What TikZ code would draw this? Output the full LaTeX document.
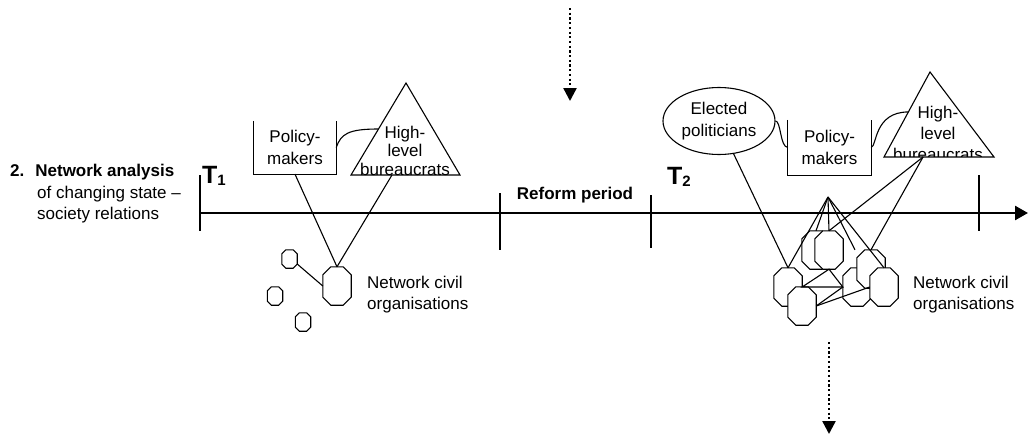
\documentclass[tikz,border=0pt]{standalone}
\usepackage{fontspec}
\setmainfont{Liberation Sans}
\usetikzlibrary{shapes.geometric,arrows.meta,calc}
\newcommand\octo[6]{%
  \node[inner sep=0pt, minimum width=#4, minimum height=#5] (#1) at (#2,#3) {};
  \draw[ln, fill=white] ($(#1.north west)+(#6,0)$) -- ($(#1.north east)+(-#6,0)$) -- ($(#1.north east)+(0,#6)$) -- ($(#1.south east)+(0,-#6)$) -- ($(#1.south east)+(-#6,0)$) -- ($(#1.south west)+(#6,0)$) -- ($(#1.south west)+(0,-#6)$) -- ($(#1.north west)+(0,#6)$) -- cycle;}
\begin{document}
\begin{tikzpicture}[x=1pt,y=-1pt,
  lbl/.style={font=\fontsize{17}{21.5}\selectfont, inner sep=0pt, align=center},
  ln/.style={line width=1.1pt},
  tri/.style={font=\fontsize{17}{18.5}\selectfont},
  dotarrow/.style={line width=2.4pt, dash pattern=on 2.2pt off 2.5pt, -{Triangle[length=13pt,width=13pt]}},
  tlabel/.style={anchor=base west, inner sep=0pt}]
\useasboundingbox (0,0) rectangle (1029,439);

% left label
\node[lbl, align=left, anchor=west] (title) at (10,194) {\textbf{2.\hspace{11pt}Network analysis}\\\hspace*{27pt}of changing state –\\\hspace*{27pt}society relations};

% axis and ticks
\draw[ln] (200,213) -- (910,213);
\draw[line width=2.6pt, -{Triangle[length=13pt,width=14pt]}] (910,213) -- (1028,213);
\draw[ln] (200,175) -- (200,231);
\draw[ln] (500,193) -- (500,250);
\draw[ln] (651,195) -- (651,248);
\draw[ln] (979,175) -- (979,231);

\node[tlabel] (T1) at (202,183) {\fontsize{25}{25}\selectfont\bfseries T\raisebox{-2pt}{\fontsize{15}{15}\selectfont 1}};
\node[tlabel] (T2) at (667,184) {\fontsize{25}{25}\selectfont\bfseries T\raisebox{-2pt}{\fontsize{15}{15}\selectfont 2}};
\node[lbl, font=\fontsize{17}{20}\selectfont\bfseries] (rp) at (575,195) {Reform period};

% ---------- T1 ----------
\node[lbl, minimum width=82pt, minimum height=53pt] (pm1) at (295,147.5) {Policy-\\makers};
\draw[ln] (pm1.north west) |- (pm1.south east) -- (pm1.north east);
\coordinate (t1a) at (406,83);
\coordinate (t1l) at (351,175);
\coordinate (t1r) at (460,175);
\draw[ln] (t1l) -- (t1a) -- (t1r) -- cycle;
\node[lbl, tri] (hb1) at (405,150.5) {High-\\level\\bureaucrats};
\coordinate (t1m) at ($(t1l)!0.5!(t1a)$);
\coordinate (t1b) at ($(t1l)!0.376!(t1r)$);
\draw[ln] (pm1.east) .. controls (341,134) and (348,129) .. (t1m);

\octo{o1}{337}{286}{28pt}{38pt}{8}
\octo{s1}{289.5}{259}{15pt}{18pt}{4}
\octo{s2}{275}{296}{15pt}{18pt}{4}
\octo{s3}{303}{322}{15pt}{18pt}{4}
\draw[ln] (pm1.south) -- (o1.north);
\draw[ln] (t1b) -- (o1.north);
\draw[ln] ($(s1.east)+(0,5)$) -- (o1.west);
\node[lbl, align=left, anchor=west] (nc1) at (367,294.5) {Network civil\\organisations};

% ---------- T2 ----------
\node[lbl, draw, ln, ellipse, minimum width=112pt, minimum height=67pt] (ep) at (719,121) {Elected\\politicians};
\node[lbl, minimum width=83pt, minimum height=55pt] (pm2) at (829.5,147.5) {Policy-\\makers};
\draw[ln] (pm2.north west) |- (pm2.south east) -- (pm2.north east);
\coordinate (t2a) at (930,72);
\coordinate (t2l) at (884,157);
\coordinate (t2r) at (994,157);
\draw[ln] (t2l) -- (t2a) -- (t2r) -- cycle;
\begin{scope}
\clip (860,60) rectangle (1010,156.5);
\node[lbl, font=\fontsize{17}{21}\selectfont] (hb2) at (938,133) {High-\\level\\bureaucrats};
\end{scope}
\coordinate (t2m) at ($(t2l)!0.53!(t2a)$);
\coordinate (t2b) at ($(t2l)!0.355!(t2r)$);
\draw[ln] (ep.east) .. controls (781,121) and (780,147) .. (pm2.west);
\draw[ln] (pm2.east) .. controls (877,146) and (874,112) .. (t2m);

\octo{A}{788}{287}{28pt}{38pt}{8}
\octo{B}{802}{306}{28pt}{38pt}{8}
\octo{C}{816}{250}{28pt}{38pt}{8}
\octo{D}{829}{250}{28pt}{38pt}{8}
\octo{E}{857}{287}{28pt}{38pt}{8}
\octo{G}{871}{269}{28pt}{38pt}{8}
\octo{F}{884}{287}{28pt}{38pt}{8}

\coordinate (fan) at (828,197);
\draw[ln] (ep.-66) -- (A.north);
\draw[ln] (fan) -- (A.north);
\draw[ln] (fan) -- (C.north);
\draw[ln] (fan) -- (D.north);
\draw[ln] (fan) -- ($(G.north)+(-16,0)$);
\draw[ln] (fan) -- (F.north);
\draw[ln] (t2b) -- (D.north);
\draw[ln] (t2b) -- (G.north);
\draw[ln] (A.east) -- (D.south) -- (E.west) -- cycle;
\draw[ln] (B.east) -- (E.west);
\draw[ln] (B.east) -- (F.west);
\node[lbl, align=left, anchor=west] (nc2) at (913,294.5) {Network civil\\organisations};

% dotted arrows
\coordinate (d1s) at (570,8);
\coordinate (d1e) at (570,101);
\draw[dotarrow] (d1s) -- (d1e);
\coordinate (d2s) at (829,342);
\coordinate (d2e) at (829,434);
\draw[dotarrow] (d2s) -- (d2e);
\end{tikzpicture}
\end{document}
